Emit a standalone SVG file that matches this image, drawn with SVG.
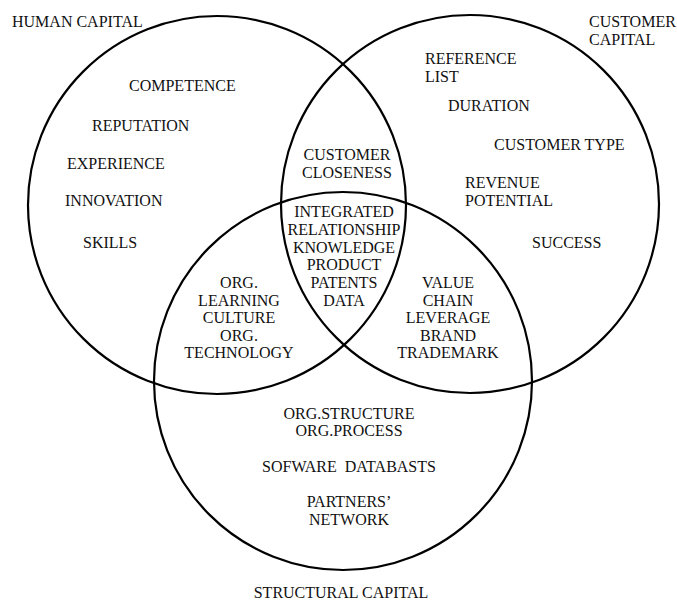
<svg xmlns="http://www.w3.org/2000/svg" width="677" height="603" viewBox="0 0 677 603">
<style>
.c{fill:none;stroke:#000;stroke-width:2.2}
text{font-family:"Liberation Serif","Times New Roman",serif;font-size:16px;fill:#111}
.m{text-anchor:middle}
</style>
<rect width="677" height="603" fill="#fff"/>
<g id="circles">
<circle id="human" class="c" cx="217" cy="205" r="189"/>
<circle id="customer" class="c" cx="470" cy="204" r="189"/>
<circle id="structural" class="c" cx="343" cy="381" r="189"/>
</g>
<g id="human-capital">
<text x="12" y="27">HUMAN CAPITAL</text>
<text x="129" y="91">COMPETENCE</text>
<text x="92" y="131">REPUTATION</text>
<text x="67" y="169">EXPERIENCE</text>
<text x="65" y="206">INNOVATION</text>
<text x="83" y="248">SKILLS</text>
</g>
<g id="customer-capital">
<text x="589" y="27">CUSTOMER</text>
<text x="589" y="45">CAPITAL</text>
<text x="425" y="64">REFERENCE</text>
<text x="425" y="82">LIST</text>
<text x="448" y="111">DURATION</text>
<text x="494" y="150">CUSTOMER TYPE</text>
<text x="465" y="188">REVENUE</text>
<text x="465" y="206">POTENTIAL</text>
<text x="532" y="248">SUCCESS</text>
</g>
<g id="human-customer">
<text class="m" x="347" y="160">CUSTOMER</text>
<text class="m" x="347" y="178">CLOSENESS</text>
</g>
<g id="center">
<text class="m" x="344" y="217">INTEGRATED</text>
<text class="m" x="344" y="235">RELATIONSHIP</text>
<text class="m" x="344" y="253">KNOWLEDGE</text>
<text class="m" x="344" y="270">PRODUCT</text>
<text class="m" x="344" y="288">PATENTS</text>
<text class="m" x="344" y="306">DATA</text>
</g>
<g id="human-structural">
<text class="m" x="239" y="288">ORG.</text>
<text class="m" x="239" y="305.5">LEARNING</text>
<text class="m" x="239" y="323">CULTURE</text>
<text class="m" x="239" y="340.5">ORG.</text>
<text class="m" x="239" y="358">TECHNOLOGY</text>
</g>
<g id="customer-structural">
<text class="m" x="448" y="288">VALUE</text>
<text class="m" x="448" y="305.5">CHAIN</text>
<text class="m" x="448" y="323">LEVERAGE</text>
<text class="m" x="448" y="340.5">BRAND</text>
<text class="m" x="448" y="358">TRADEMARK</text>
</g>
<g id="structural-capital">
<text class="m" x="349" y="419">ORG.STRUCTURE</text>
<text class="m" x="349" y="436">ORG.PROCESS</text>
<text class="m" x="349" y="472">SOFWARE&#160; DATABASTS</text>
<text class="m" x="349" y="507">PARTNERS’</text>
<text class="m" x="349" y="525">NETWORK</text>
<text class="m" x="341" y="598">STRUCTURAL CAPITAL</text>
</g>
<g id="connectors"/>
</svg>
